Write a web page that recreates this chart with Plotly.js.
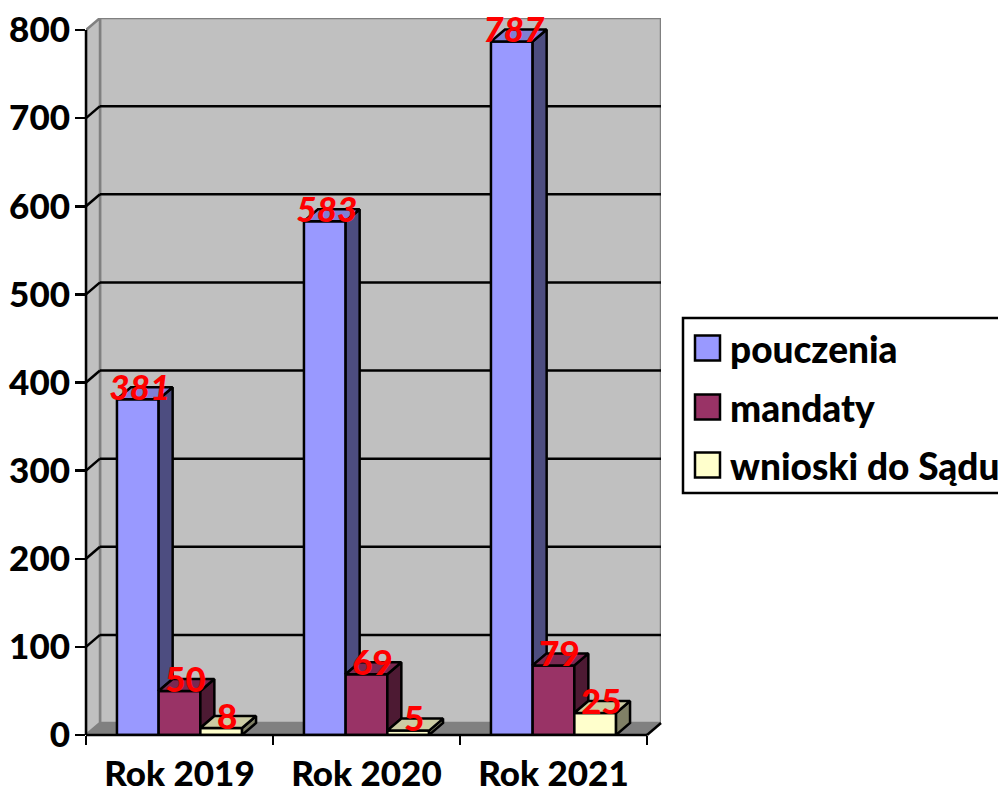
<!DOCTYPE html>
<html><head><meta charset="utf-8">
<script src="https://cdn.plot.ly/plotly-3.0.1.min.js"></script>
<style>html,body{margin:0;padding:0;background:#fff;overflow:hidden}#c{width:998px;height:794px}</style>
</head><body><div id="c"></div>
<script>
const categories = ["Rok 2019", "Rok 2020", "Rok 2021"];
const seriesNames = ["pouczenia", "mandaty", "wnioski do Sądu"];
const pouczenia = [381, 583, 787];
const mandaty = [50, 69, 79];
const wnioski = [8, 5, 25];
const yTicks = [0, 100, 200, 300, 400, 500, 600, 700, 800];
const frontColors = ["#9999FF", "#993366", "#FFFFCC"];
const sideColors = ["#4D4D80", "#4D1A33", "#808066"];
const topColors = ["#7F7FD4", "#7A2952", "#CCCCA3"];

const values = [pouczenia, mandaty, wnioski];
const catX = categories.map((_, i) => i + 0.5);
const L = 86, T = 18, PW = 575, PH = 717;
const pxPerCat = 187, pxPerUnit = 0.88125;
const dx = 14 / pxPerCat, dy = 12 / pxPerUnit;
const yMax = 800, nCat = categories.length;
const gap = 0.331, w = (1 - gap) / 3;
const FONT = "Lato, Carlito, 'Noto Sans', sans-serif";
const WEIGHT = 900;
const LW = 2.5;
const px = v => (v - L) / PW;
const py = v => (T + PH - v) / PH;
const xPaper = v => v / (nCat + dx);
const yPaper = v => v / (yMax + dy);

const traces = [];
values.forEach((vals, s) => {
  traces.push({type: "bar", name: seriesNames[s], x: catX, y: vals, showlegend: false, hoverinfo: "skip",
    cliponaxis: false, marker: {color: frontColors[s], line: {color: "#000", width: LW}}});
});
values.forEach((vals, s) => {
  const next = values[s + 1];
  const sx = [], sy = [], tx = [], ty = [];
  vals.forEach((v, i) => {
    const x1 = catX[i] + (s - 1.5) * w + w;
    const x0 = x1 - w;
    const base = next ? next[i] : 0;
    sx.push(x1, x1 + dx, x1 + dx, x1, x1, null);
    sy.push(base, base + dy, v + dy, v, base, null);
    tx.push(x0, x1, x1 + dx, x0 + dx, x0, null);
    ty.push(v, v, v + dy, v + dy, v, null);
  });
  traces.push({type: "scatter", mode: "lines", x: sx, y: sy, fill: "toself", fillcolor: sideColors[s],
    line: {color: "#000", width: LW}, showlegend: false, hoverinfo: "skip", cliponaxis: false});
  traces.push({type: "scatter", mode: "lines", x: tx, y: ty, fill: "toself", fillcolor: topColors[s],
    line: {color: "#000", width: LW}, showlegend: false, hoverinfo: "skip", cliponaxis: false});
});
values.forEach((vals, s) => {
  const shiftX = (s === 0 ? -5 : -1) / pxPerCat, shiftY = -4 / pxPerUnit;
  traces.push({type: "scatter", mode: "text", showlegend: false, hoverinfo: "skip", cliponaxis: false,
    x: vals.map((_, i) => catX[i] + (s - 1) * w + dx / 2 + shiftX),
    y: vals.map(v => v + dy + shiftY),
    text: vals.map(String), textposition: "middle center",
    textfont: {family: FONT, size: 35, color: "#FF0000", weight: WEIGHT, style: s === 0 ? "italic" : "normal"}});
});

const poly = pts => "M" + pts.map(p => p[0] + "," + p[1]).join("L") + "Z";
const shapes = [];
const dataShape = (path, fill, lineColor, lw) => shapes.push({type: "path", xref: "x", yref: "y", layer: "below",
  path, fillcolor: fill, line: {color: lineColor, width: lw}});
const seg = (x0, y0, x1, y1, color, lw) => shapes.push({type: "line", xref: "x", yref: "y", layer: "below",
  x0, y0, x1, y1, line: {color, width: lw}});
const axisSeg = (x0, y0, x1, y1) => shapes.push({type: "line", xref: "paper", yref: "paper", layer: "above",
  x0: xPaper(x0), y0: yPaper(y0), x1: xPaper(x1), y1: yPaper(y1), line: {color: "#000", width: LW}});

dataShape(poly([[dx, dy], [nCat + dx, dy], [nCat + dx, yMax + dy], [dx, yMax + dy]]), "#C0C0C0", "#808080", 2.5);
dataShape(poly([[0, 0], [dx, dy], [dx, yMax + dy], [0, yMax]]), "#C0C0C0", "#808080", 2.5);
dataShape(poly([[0, 0], [nCat, 0], [nCat + dx, dy], [dx, dy]]), "#808080", "#808080", 1);
yTicks.filter(v => v > 0 && v < yMax).forEach(v => {
  seg(dx, v + dy, nCat + dx, v + dy, "#000", LW);
  seg(0, v, dx, v + dy, "#000", LW);
});
axisSeg(0, 0, 0, yMax);
axisSeg(0, 0, nCat, 0);
axisSeg(nCat, 0, nCat + dx, dy);

const annotations = [];
const boxTop = 318, boxBottom = 493, boxLeft = 683;
shapes.push({type: "rect", xref: "paper", yref: "paper", x0: px(boxLeft), x1: px(1010), y0: py(boxBottom), y1: py(boxTop),
  fillcolor: "#fff", line: {color: "#000", width: LW}});
const legendY = [348, 407, 465];
seriesNames.forEach((n, s) => {
  shapes.push({type: "rect", xref: "paper", yref: "paper", x0: px(695), x1: px(720),
    y0: py(legendY[s] + 12.5), y1: py(legendY[s] - 12.5), fillcolor: frontColors[s], line: {color: "#000", width: LW}});
  annotations.push({xref: "paper", yref: "paper", x: px(730), y: py(legendY[s]), xanchor: "left", yanchor: "middle",
    showarrow: false, text: n, align: "left", xshift: -2,
    font: {family: FONT, size: 37, color: "#000", weight: WEIGHT}});
});

const layout = {
  width: 998, height: 794, showlegend: false, hovermode: false,
  paper_bgcolor: "#fff", plot_bgcolor: "rgba(0,0,0,0)",
  margin: {l: L, r: 998 - L - PW, t: T, b: 794 - T - PH, pad: 0, autoexpand: false},
  barmode: "group", bargap: gap, bargroupgap: 0,
  xaxis: {type: "linear", range: [0, nCat + dx], tickmode: "array", tickvals: catX, ticktext: categories,
    ticks: "", showgrid: false, zeroline: false, showline: false, ticklabelstandoff: 15,
    tickfont: {family: FONT, size: 35, color: "#000", weight: WEIGHT},
    minor: {tickmode: "array", tickvals: categories.map((_, i) => i).concat([nCat]), ticks: "outside", ticklen: 9,
      tickwidth: LW, tickcolor: "#000", showgrid: false}},
  yaxis: {type: "linear", range: [0, yMax + dy], tickmode: "array", tickvals: yTicks, ticktext: yTicks.map(String),
    ticks: "outside", ticklen: 10, tickwidth: LW, tickcolor: "#000", showgrid: false, zeroline: false, showline: false,
    ticklabelstandoff: -2,
    tickfont: {family: FONT, size: 35, color: "#000", weight: WEIGHT}},
  shapes, annotations
};
Plotly.newPlot("c", traces, layout, {displayModeBar: false, staticPlot: true});
</script></body></html>
